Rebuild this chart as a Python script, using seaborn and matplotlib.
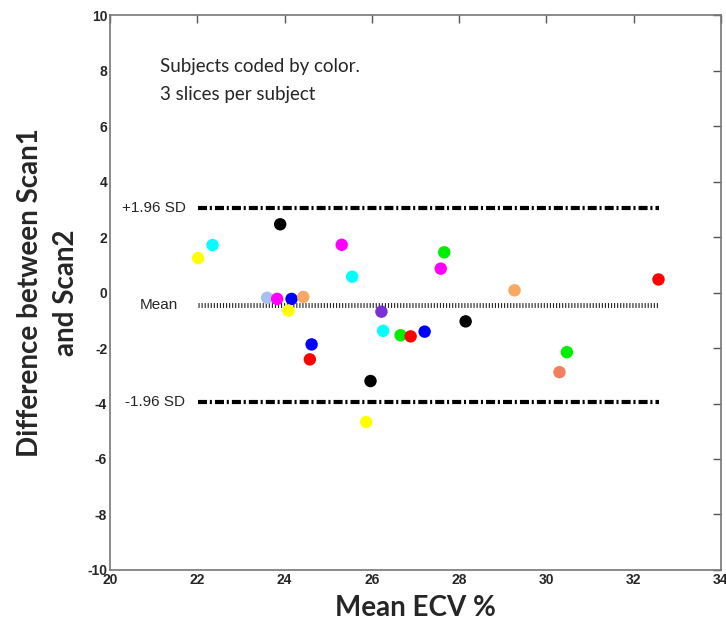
import numpy as np
import pandas as pd
import matplotlib
matplotlib.use("Agg")
import matplotlib.pyplot as plt
import seaborn as sns

# Bland-Altman data
mean_ecv = [22.02, 22.35, 23.90, 23.60, 23.83, 24.16, 24.43, 24.09, 24.62, 24.58,
            25.31, 25.55, 25.97, 25.87, 26.22, 26.26, 26.66, 26.89,
            27.21, 27.66, 27.58, 28.15, 29.27, 30.47, 30.30, 32.57]
diff = [1.24, 1.71, 2.46, -0.19, -0.23, -0.23, -0.16, -0.65, -1.87, -2.41,
        1.72, 0.57, -3.19, -4.67, -0.69, -1.38, -1.54, -1.58,
        -1.41, 1.45, 0.86, -1.04, 0.08, -2.15, -2.87, 0.47]
subject = ["yellow", "cyan", "black", "lightblue", "magenta", "blue", "orange", "yellow", "blue", "red",
           "magenta", "cyan", "black", "yellow", "purple", "cyan", "green", "red",
           "blue", "green", "magenta", "black", "orange", "green", "salmon", "red"]
subject_colors = {"yellow": "#ffff00", "cyan": "#00ffff", "black": "#000000",
                  "lightblue": "#a8c0f0", "magenta": "#ff00ff", "blue": "#0000ff",
                  "orange": "#f8a860", "red": "#ff0000", "purple": "#7b2fd6",
                  "green": "#00ee00", "salmon": "#f08060"}
mean_diff = -0.46
upper_loa = 3.04
lower_loa = -3.95

df = pd.DataFrame({"Mean ECV": mean_ecv, "Diff": diff, "Subject": subject})

sns.set_style("white")
plt.rcParams['font.family'] = ['Liberation Sans', 'DejaVu Sans']
plt.rcParams['lines.scale_dashes'] = False
plt.rcParams['axes.unicode_minus'] = False

fig = plt.figure(figsize=(7.26, 6.28), dpi=100)
ax = fig.add_axes([0.1515, 0.0924, 0.8415, 0.8836])

xmin, xmax = min(mean_ecv), max(mean_ecv)
ax.plot([xmin, xmax], [upper_loa, upper_loa], color="black", lw=3.0,
        linestyle=(0, (6.5, 2.0, 1.5, 2.2)), solid_capstyle="butt")
ax.plot([xmin, xmax], [lower_loa, lower_loa], color="black", lw=3.0,
        linestyle=(0, (6.5, 2.0, 1.5, 2.2)), solid_capstyle="butt")
ax.plot([xmin, xmax], [mean_diff, mean_diff], color="#222222", lw=3.5,
        linestyle=(0, (0.8, 1.4)), dash_capstyle="butt")

sns.scatterplot(data=df, x="Mean ECV", y="Diff", hue="Subject", palette=subject_colors,
                s=80, edgecolor="none", legend=False, ax=ax, zorder=3)

ax.text(21.73, upper_loa, "+1.96 SD", ha="right", va="center", fontsize=11)
ax.text(21.56, mean_diff, "Mean", ha="right", va="center", fontsize=11)
ax.text(21.73, lower_loa, "-1.96 SD", ha="right", va="center", fontsize=11)

ax.text(21.15, 8.15, "Subjects coded by color.", fontsize=13.5, family=["Lato", "DejaVu Sans"],
        va="center")
ax.text(21.15, 7.12, "3 slices per subject", fontsize=13.5, family=["Lato", "DejaVu Sans"],
        va="center")

ax.set_xlim(20, 34)
ax.set_ylim(-10, 10)
ax.set_xticks(np.arange(20, 35, 2))
ax.set_yticks(np.arange(-10, 11, 2))
ax.tick_params(direction="in", length=6, width=1, color="#555555", top=True, right=True,
               labelsize=10, pad=2)
for lbl in ax.get_xticklabels() + ax.get_yticklabels():
    lbl.set_fontweight("bold")
for sp in ax.spines.values():
    sp.set_color("#777777")
    sp.set_linewidth(1.2)

ax.set_xlabel("Mean ECV %", fontsize=20, fontweight="bold", family=["Lato", "DejaVu Sans"],
              labelpad=6)
ax.set_ylabel("Difference between Scan1\nand Scan2", fontsize=20, fontweight="bold",
              family=["Lato", "DejaVu Sans"], labelpad=6, linespacing=1.45)

fig.savefig("out.png", dpi=100)
